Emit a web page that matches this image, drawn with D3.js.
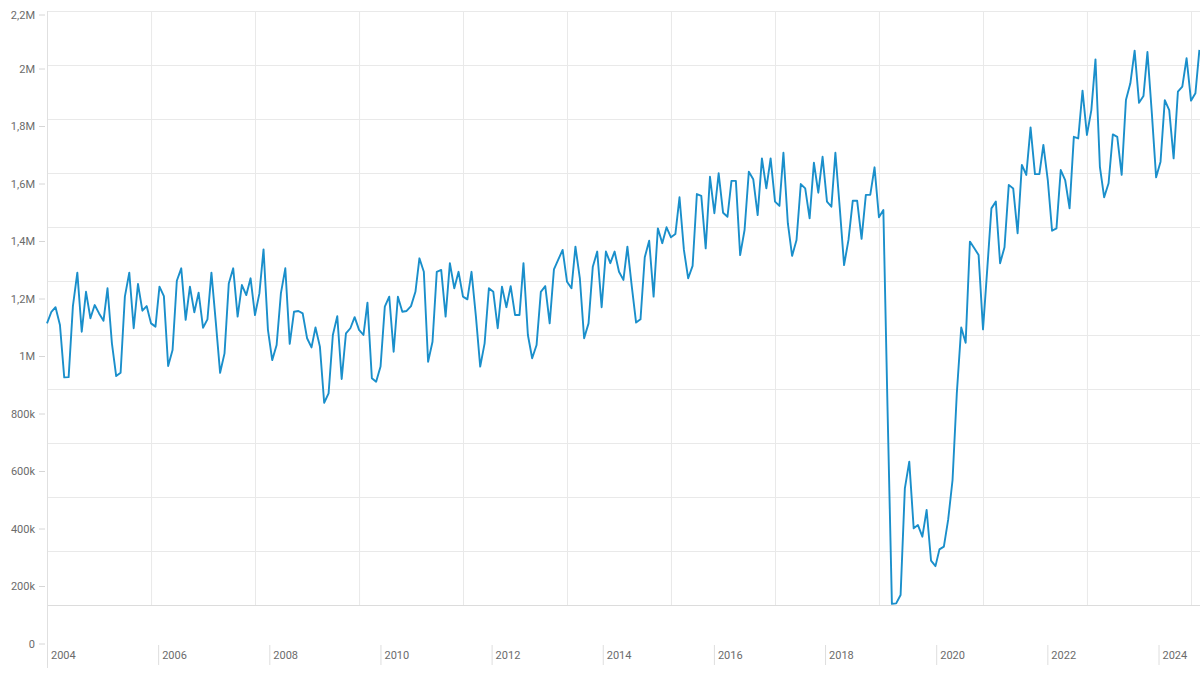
<!DOCTYPE html>
<html>
<head>
<meta charset="utf-8">
<script src="https://cdn.jsdelivr.net/npm/d3@7"></script>
<style>
  html, body { margin: 0; padding: 0; background: #fff; }
  svg { display: block; font-family: Roboto, "Noto Sans", sans-serif; }
</style>
</head>
<body>
<svg id="chart" width="1200" height="675"></svg>
<script>
// monthly series, thousands, Jan 2004 -> Mar 2026
const startYear = 2004;
const monthly = [
  1043, 1086, 1103, 1037, 843, 844, 1107, 1231, 1012, 1160, 1062, 1111,
  1080, 1053, 1173, 969, 848, 860, 1142, 1231, 1025, 1189, 1090, 1107,
  1043, 1031, 1179, 1144, 885, 944, 1201, 1247, 1056, 1179, 1084, 1157,
  1027, 1058, 1231, 1046, 860, 932, 1191, 1247, 1068, 1185, 1148, 1210,
  1074, 1154, 1317, 1019, 907, 963, 1154, 1247, 967, 1086, 1089, 1080,
  988, 954, 1028, 957, 749, 784, 1000, 1070, 837, 1006, 1025, 1066,
  1019, 1000, 1120, 840, 827, 883, 1105, 1142, 938, 1142, 1086, 1089,
  1107, 1160, 1284, 1234, 901, 975, 1234, 1241, 1068, 1266, 1173, 1234,
  1142, 1132, 1234, 1068, 883, 969, 1173, 1160, 1025, 1179, 1103, 1181,
  1074, 1074, 1266, 1000, 914, 963, 1160, 1181, 1043, 1243, 1280, 1315,
  1197, 1173, 1327, 1210, 988, 1043, 1253, 1309, 1103, 1309, 1266, 1309,
  1234, 1204, 1327, 1179, 1046, 1058, 1288, 1349, 1142, 1395, 1340, 1399,
  1362, 1374, 1510, 1315, 1210, 1256, 1522, 1515, 1321, 1586, 1451, 1599,
  1453, 1438, 1571, 1571, 1296, 1389, 1605, 1577, 1444, 1654, 1543, 1654,
  1494, 1478, 1675, 1414, 1293, 1352, 1559, 1543, 1432, 1638, 1527, 1660,
  1494, 1475, 1675, 1469, 1259, 1352, 1497, 1497, 1356, 1519, 1519, 1621,
  1436, 1463, 734, 4, 6, 37, 432, 531, 284, 296, 253, 352,
  164, 144, 206, 216, 315, 463, 784, 1028, 971, 1346, 1321, 1296,
  1021, 1253, 1469, 1494, 1266, 1325, 1556, 1543, 1377, 1630, 1593, 1769,
  1596, 1596, 1704, 1574, 1386, 1395, 1611, 1574, 1469, 1734, 1728, 1905,
  1741, 1833, 2021, 1623, 1510, 1562, 1743, 1734, 1593, 1870, 1932, 2053,
  1860, 1885, 2048, 1821, 1584, 1642, 1870, 1833, 1654, 1901, 1920, 2025,
  1868, 1895, 2056
];
const yTicks = [0, 200, 400, 600, 800, 1000, 1200, 1400, 1600, 1800, 2000, 2200];
const labelYears = [2004, 2006, 2008, 2010, 2012, 2014, 2016, 2018, 2020, 2022, 2024];
const gridYears = [2006, 2008, 2010, 2012, 2014, 2016, 2018, 2020, 2022, 2024, 2026];

const svg = d3.select("#chart");
const width = 1200, height = 675;
const left = 47, plotTop = 11, plotBottom = 605;

const series = monthly.map((v, i) => ({date: new Date(startYear, i, 1), value: v}));

// plot scales
const x = d3.scaleTime()
    .domain([new Date(2004, 0, 1), new Date(2026, 0, 1)])
    .range([left, 1191]);
const y = d3.scaleLinear().domain([0, 2200]).range([plotBottom, plotTop]);

// label scales (the labels sit on their own spacing)
const yLab = d3.scaleLinear().domain([0, 2200]).range([644, 11.5]);
const xLab = d3.scaleLinear().domain([2004, 2024]).range([left, 1158.5]);

const fmt = d => d === 0 ? "0" : d >= 1000 ? (d / 1000 + "M").replace(".", ",") : d + "k";

// grid
svg.append("g")
    .selectAll("line")
    .data(yTicks)
    .join("line")
    .attr("x1", left).attr("x2", width)
    .attr("y1", d => y(d) + 0.5).attr("y2", d => y(d) + 0.5)
    .attr("stroke", d => d === 0 ? "#dcdcdc" : "#e9e9e9");

svg.append("g")
    .selectAll("line")
    .data(gridYears)
    .join("line")
    .attr("x1", d => x(new Date(d, 0, 1)) + 0.5).attr("x2", d => x(new Date(d, 0, 1)) + 0.5)
    .attr("y1", plotTop).attr("y2", plotBottom)
    .attr("stroke", "#e9e9e9");

// left axis line
svg.append("line")
    .attr("x1", left + 0.5).attr("x2", left + 0.5)
    .attr("y1", plotTop).attr("y2", 668)
    .attr("stroke", "#e0e0e0");

// y labels
const yAxis = svg.append("g")
    .attr("transform", "translate(45,0)")
    .call(d3.axisLeft(yLab).tickValues(yTicks).tickSize(6).tickPadding(4).tickFormat(fmt));
yAxis.select(".domain").remove();
// top label is pushed down to stay inside the frame
yAxis.selectAll(".tick").attr("transform", d => `translate(0,${Math.max(yLab(d), 15)})`);
yAxis.selectAll(".tick line").attr("stroke", "#d6d6d6");
yAxis.selectAll(".tick text")
    .attr("fill", "#6b6b6b")
    .style("font-size", "11px")
    .style("font-family", "Roboto, sans-serif");

// x labels
const xTicks = svg.append("g")
    .selectAll("g")
    .data(labelYears)
    .join("g")
    .attr("transform", d => `translate(${xLab(d)},0)`);

xTicks.append("line")
    .attr("x1", 0.5).attr("x2", 0.5)
    .attr("y1", 645).attr("y2", 665)
    .attr("stroke", "#dedede");

xTicks.append("text")
    .attr("x", 4)
    .attr("y", 658.5)
    .attr("fill", "#6b6b6b")
    .style("font-size", "11px")
    .text(d => d);

// series line
const line = d3.line()
    .x(d => x(d.date))
    .y(d => y(d.value));

svg.append("path")
    .datum(series)
    .attr("fill", "none")
    .attr("stroke", "#1a8fcb")
    .attr("stroke-width", 1.9)
    .attr("stroke-linejoin", "round")
    .attr("d", line);
</script>
</body>
</html>
